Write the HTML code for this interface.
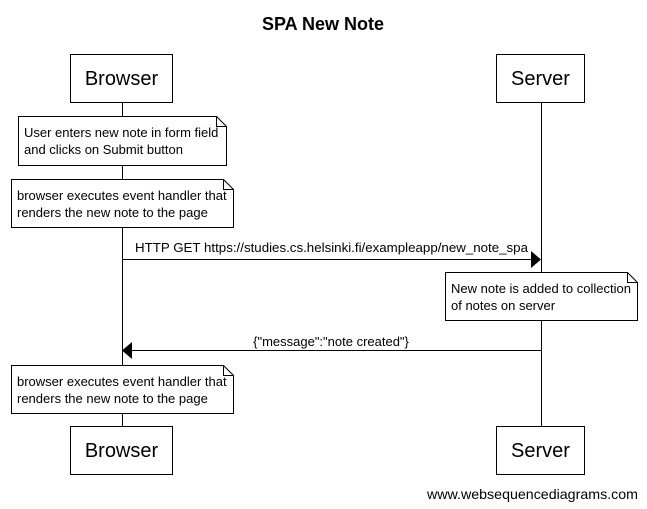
<!DOCTYPE html>
<html><head><style>body{margin:0;background:#fff}svg{display:block}</style></head><body>
<svg width="647" height="509" xmlns="http://www.w3.org/2000/svg" font-family="Liberation Sans, Arial, sans-serif">
<rect width="647" height="509" fill="#fff"/>
<text x="323" y="30" text-anchor="middle" font-size="18" font-weight="bold">SPA New Note</text>
<g stroke="#000" stroke-width="1" fill="none">
<line x1="122.5" y1="102" x2="122.5" y2="426"/>
<line x1="541.5" y1="102" x2="541.5" y2="426"/>
</g>
<g stroke="#000" fill="#fff">
<rect x="70.5" y="54.5" width="102" height="48"/>
<rect x="496.5" y="54.5" width="88" height="48"/>
<rect x="70.5" y="426.5" width="102" height="48"/>
<rect x="496.5" y="426.5" width="88" height="48"/>
<path d="M18.5 116.5H216.5L226.5 126.5V165.5H18.5Z"/><path d="M216.5 116.5V126.5H226.5" fill="none"/>
<path d="M11.5 179.5H223.5L233.5 189.5V227.5H11.5Z"/><path d="M223.5 179.5V189.5H233.5" fill="none"/>
<path d="M445.5 272.5H627.5L637.5 282.5V320.5H445.5Z"/><path d="M627.5 272.5V282.5H637.5" fill="none"/>
<path d="M11.5 365.5H223.5L233.5 375.5V413.5H11.5Z"/><path d="M223.5 365.5V375.5H233.5" fill="none"/>
</g>
<g font-size="20" text-anchor="middle">
<text x="121.5" y="85">Browser</text><text x="540.5" y="85">Server</text>
<text x="121.5" y="457">Browser</text><text x="540.5" y="457">Server</text>
</g>
<g font-size="13">
<text x="24" y="137">User enters new note in form field</text>
<text x="24" y="154">and clicks on Submit button</text>
<text x="17" y="200">browser executes event handler that</text>
<text x="17" y="217">renders the new note to the page</text>
<text x="451" y="293">New note is added to collection</text>
<text x="451" y="310">of notes on server</text>
<text x="17" y="386">browser executes event handler that</text>
<text x="17" y="403">renders the new note to the page</text>
<text x="135" y="252" textLength="393" lengthAdjust="spacingAndGlyphs">HTTP GET https://studies.cs.helsinki.fi/exampleapp/new_note_spa</text>
<text x="331" y="346" text-anchor="middle">{"message":"note created"}</text>
<text x="427" y="499" font-size="14" textLength="211" lengthAdjust="spacingAndGlyphs">www.websequencediagrams.com</text>
</g>
<line x1="122" y1="259.5" x2="532" y2="259.5" stroke="#000"/>
<path d="M531 251L541 259.5L531 268Z" fill="#000"/>
<line x1="131" y1="350.5" x2="541" y2="350.5" stroke="#000"/>
<path d="M132 342L122 350.5L132 359Z" fill="#000"/>
</svg>
</body></html>
